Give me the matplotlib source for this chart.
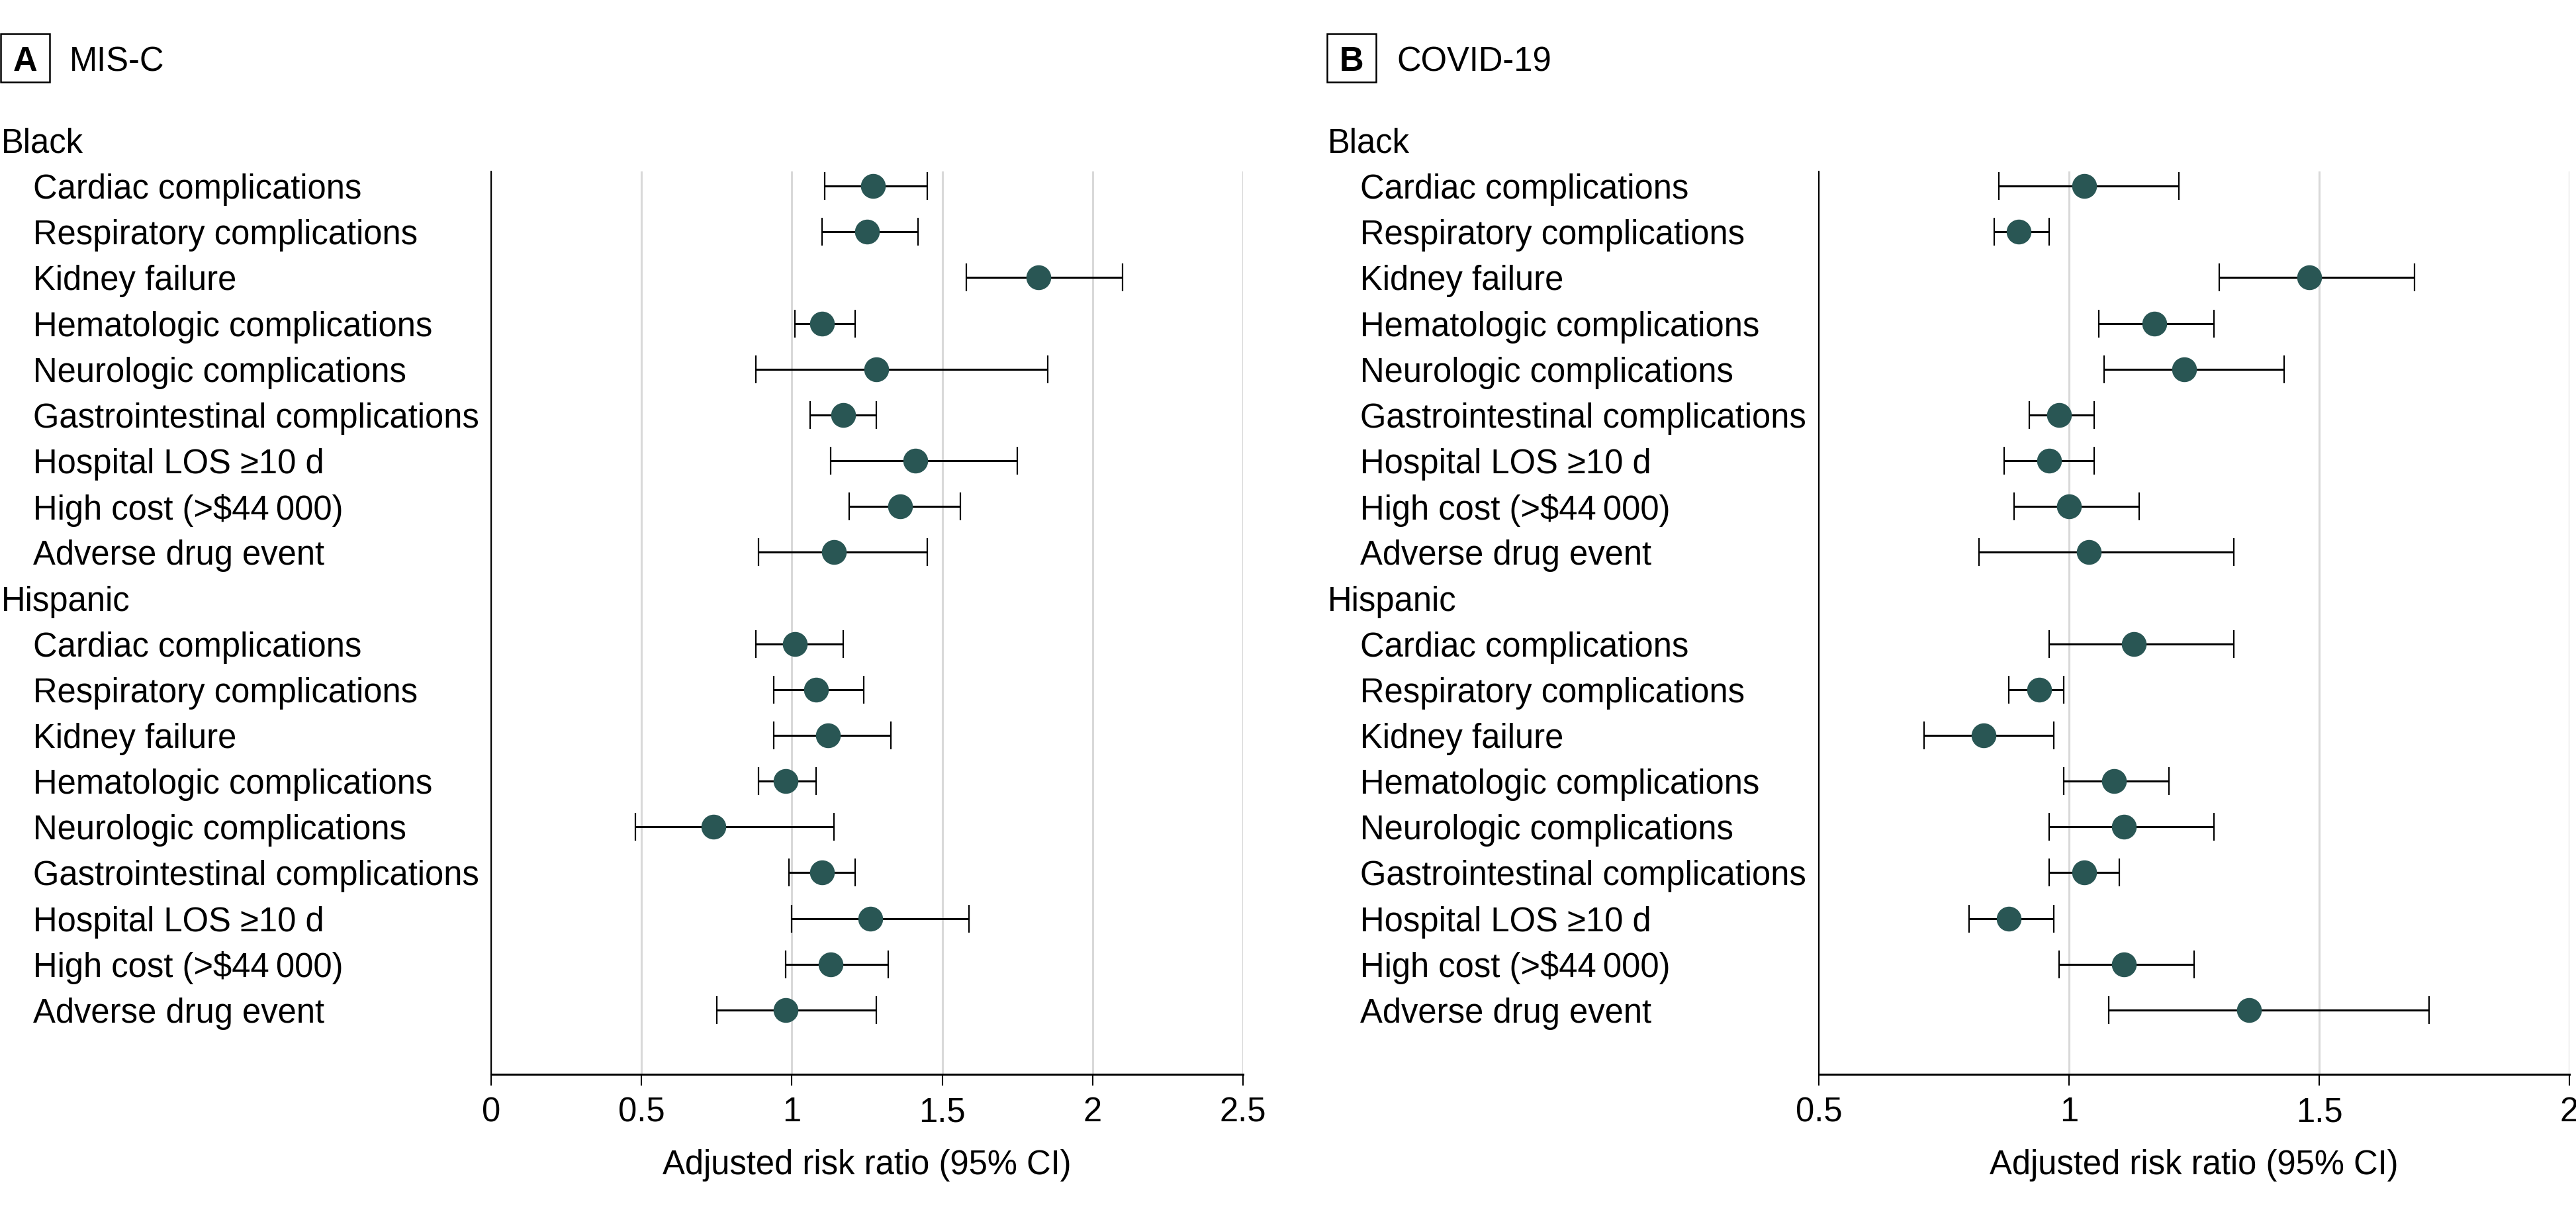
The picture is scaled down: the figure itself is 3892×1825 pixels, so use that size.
import numpy as np
import matplotlib
matplotlib.use("Agg")
import matplotlib.pyplot as plt
import matplotlib.transforms as mtransforms
from matplotlib.patches import Rectangle

plt.rcParams['font.family'] = ['Liberation Sans', 'DejaVu Sans']

W, H = 3892, 1825

groups = ["Black", "Hispanic"]
outcomes = ["Cardiac complications", "Respiratory complications", "Kidney failure",
            "Hematologic complications", "Neurologic complications",
            "Gastrointestinal complications", "Hospital LOS \u226510 d",
            "High cost (>$44\u2009000)", "Adverse drug event"]

# panel A: MIS-C
misc_black_rr = [1.27, 1.25, 1.82, 1.10, 1.28, 1.17, 1.41, 1.36, 1.14]
misc_black_lo = [1.11, 1.10, 1.58, 1.01, 0.88, 1.06, 1.13, 1.19, 0.89]
misc_black_hi = [1.45, 1.42, 2.10, 1.21, 1.85, 1.28, 1.75, 1.56, 1.45]
misc_hisp_rr = [1.01, 1.08, 1.12, 0.98, 0.74, 1.10, 1.26, 1.13, 0.98]
misc_hisp_lo = [0.88, 0.94, 0.94, 0.89, 0.48, 0.99, 1.00, 0.98, 0.75]
misc_hisp_hi = [1.17, 1.24, 1.33, 1.08, 1.14, 1.21, 1.59, 1.32, 1.28]

# panel B: COVID-19
covid_black_rr = [1.03, 0.90, 1.48, 1.17, 1.23, 0.98, 0.96, 1.00, 1.04]
covid_black_lo = [0.86, 0.85, 1.30, 1.06, 1.07, 0.92, 0.87, 0.89, 0.82]
covid_black_hi = [1.22, 0.96, 1.69, 1.29, 1.43, 1.05, 1.05, 1.14, 1.33]
covid_hisp_rr = [1.13, 0.94, 0.83, 1.09, 1.11, 1.03, 0.88, 1.11, 1.36]
covid_hisp_lo = [0.96, 0.88, 0.71, 0.99, 0.96, 0.96, 0.80, 0.98, 1.08]
covid_hisp_hi = [1.33, 0.99, 0.97, 1.20, 1.29, 1.10, 0.97, 1.25, 1.72]

panels = [
    {"letter": "A", "title": "MIS-C", "xlim": (0, 2.5), "ticks": [0, 0.5, 1, 1.5, 2, 2.5],
     "ticklabels": ["0", "0.5", "1", "1.5", "2", "2.5"],
     "ax_left": 742, "ax_right": 1878, "box_left": 1, "title_x": 105,
     "head_x": 2, "item_x": 50,
     "data": [(misc_black_rr, misc_black_lo, misc_black_hi),
              (misc_hisp_rr, misc_hisp_lo, misc_hisp_hi)]},
    {"letter": "B", "title": "COVID-19", "xlim": (0.5, 2.0), "ticks": [0.5, 1, 1.5, 2],
     "ticklabels": ["0.5", "1", "1.5", "2"],
     "ax_left": 2748, "ax_right": 3882, "box_left": 2005, "title_x": 2110,
     "head_x": 2006, "item_x": 2055,
     "data": [(covid_black_rr, covid_black_lo, covid_black_hi),
              (covid_hisp_rr, covid_hisp_lo, covid_hisp_hi)]},
]

dot_color = "#295654"
grid_color = "#d9d9d9"
fs = 36.5

fig = plt.figure(figsize=(W / 100, H / 100), dpi=100)
fig.patch.set_facecolor("white")

ax_top, ax_bot = 259, 1622.7

for p in panels:
    ax = fig.add_axes([p["ax_left"] / W, 1 - ax_bot / H,
                       (p["ax_right"] - p["ax_left"]) / W, (ax_bot - ax_top) / H])
    ax.set_xlim(*p["xlim"])
    ax.set_ylim(20.4, 0.68)
    ax.set_xticks(p["ticks"])
    ax.set_xticklabels(p["ticklabels"], fontsize=fs)
    ax.set_yticks([])
    for s in ["top", "right"]:
        ax.spines[s].set_visible(False)
    ax.spines["left"].set_linewidth(1.5)
    ax.spines["bottom"].set_linewidth(2.2)
    ax.tick_params(axis="x", length=12, width=1.5, pad=12)
    ax.grid(axis="x", color=grid_color, linewidth=2.2, zorder=0)
    ax.set_axisbelow(True)
    ax.set_xlabel("Adjusted risk ratio (95% CI)", fontsize=fs, labelpad=22)

    trans = mtransforms.blended_transform_factory(fig.transFigure, ax.transData)
    row = 0
    for g, (rr, lo, hi) in zip(groups, p["data"]):
        fig.text(p["head_x"] / W, row, g, transform=trans, fontsize=fs,
                 va="center_baseline", ha="left")
        row += 1
        ys = np.arange(row, row + len(outcomes))
        rr = np.array(rr)
        err = [rr - np.array(lo), np.array(hi) - rr]
        ax.errorbar(rr, ys, xerr=err, fmt="o", color=dot_color, markersize=26,
                    ecolor="black", elinewidth=2.2, capsize=15, capthick=1.6, zorder=3)
        for y, name in zip(ys, outcomes):
            fig.text(p["item_x"] / W, y, name, transform=trans, fontsize=fs,
                     va="center_baseline", ha="left")
        row += len(outcomes)

    # panel letter box and title
    bx = p["box_left"]
    fig.add_artist(Rectangle((bx / W, 1 - 124 / H), 74 / W, 73 / H,
                             transform=fig.transFigure, fill=False,
                             edgecolor="black", linewidth=1.8))
    fig.text((bx + 37) / W, 1 - 88 / H, p["letter"], fontsize=fs, fontweight="bold",
             ha="center", va="center_baseline")
    fig.text(p["title_x"] / W, 1 - 88 / H, p["title"], fontsize=fs,
             ha="left", va="center_baseline")

fig.savefig("out.png", dpi=100, facecolor="white")
